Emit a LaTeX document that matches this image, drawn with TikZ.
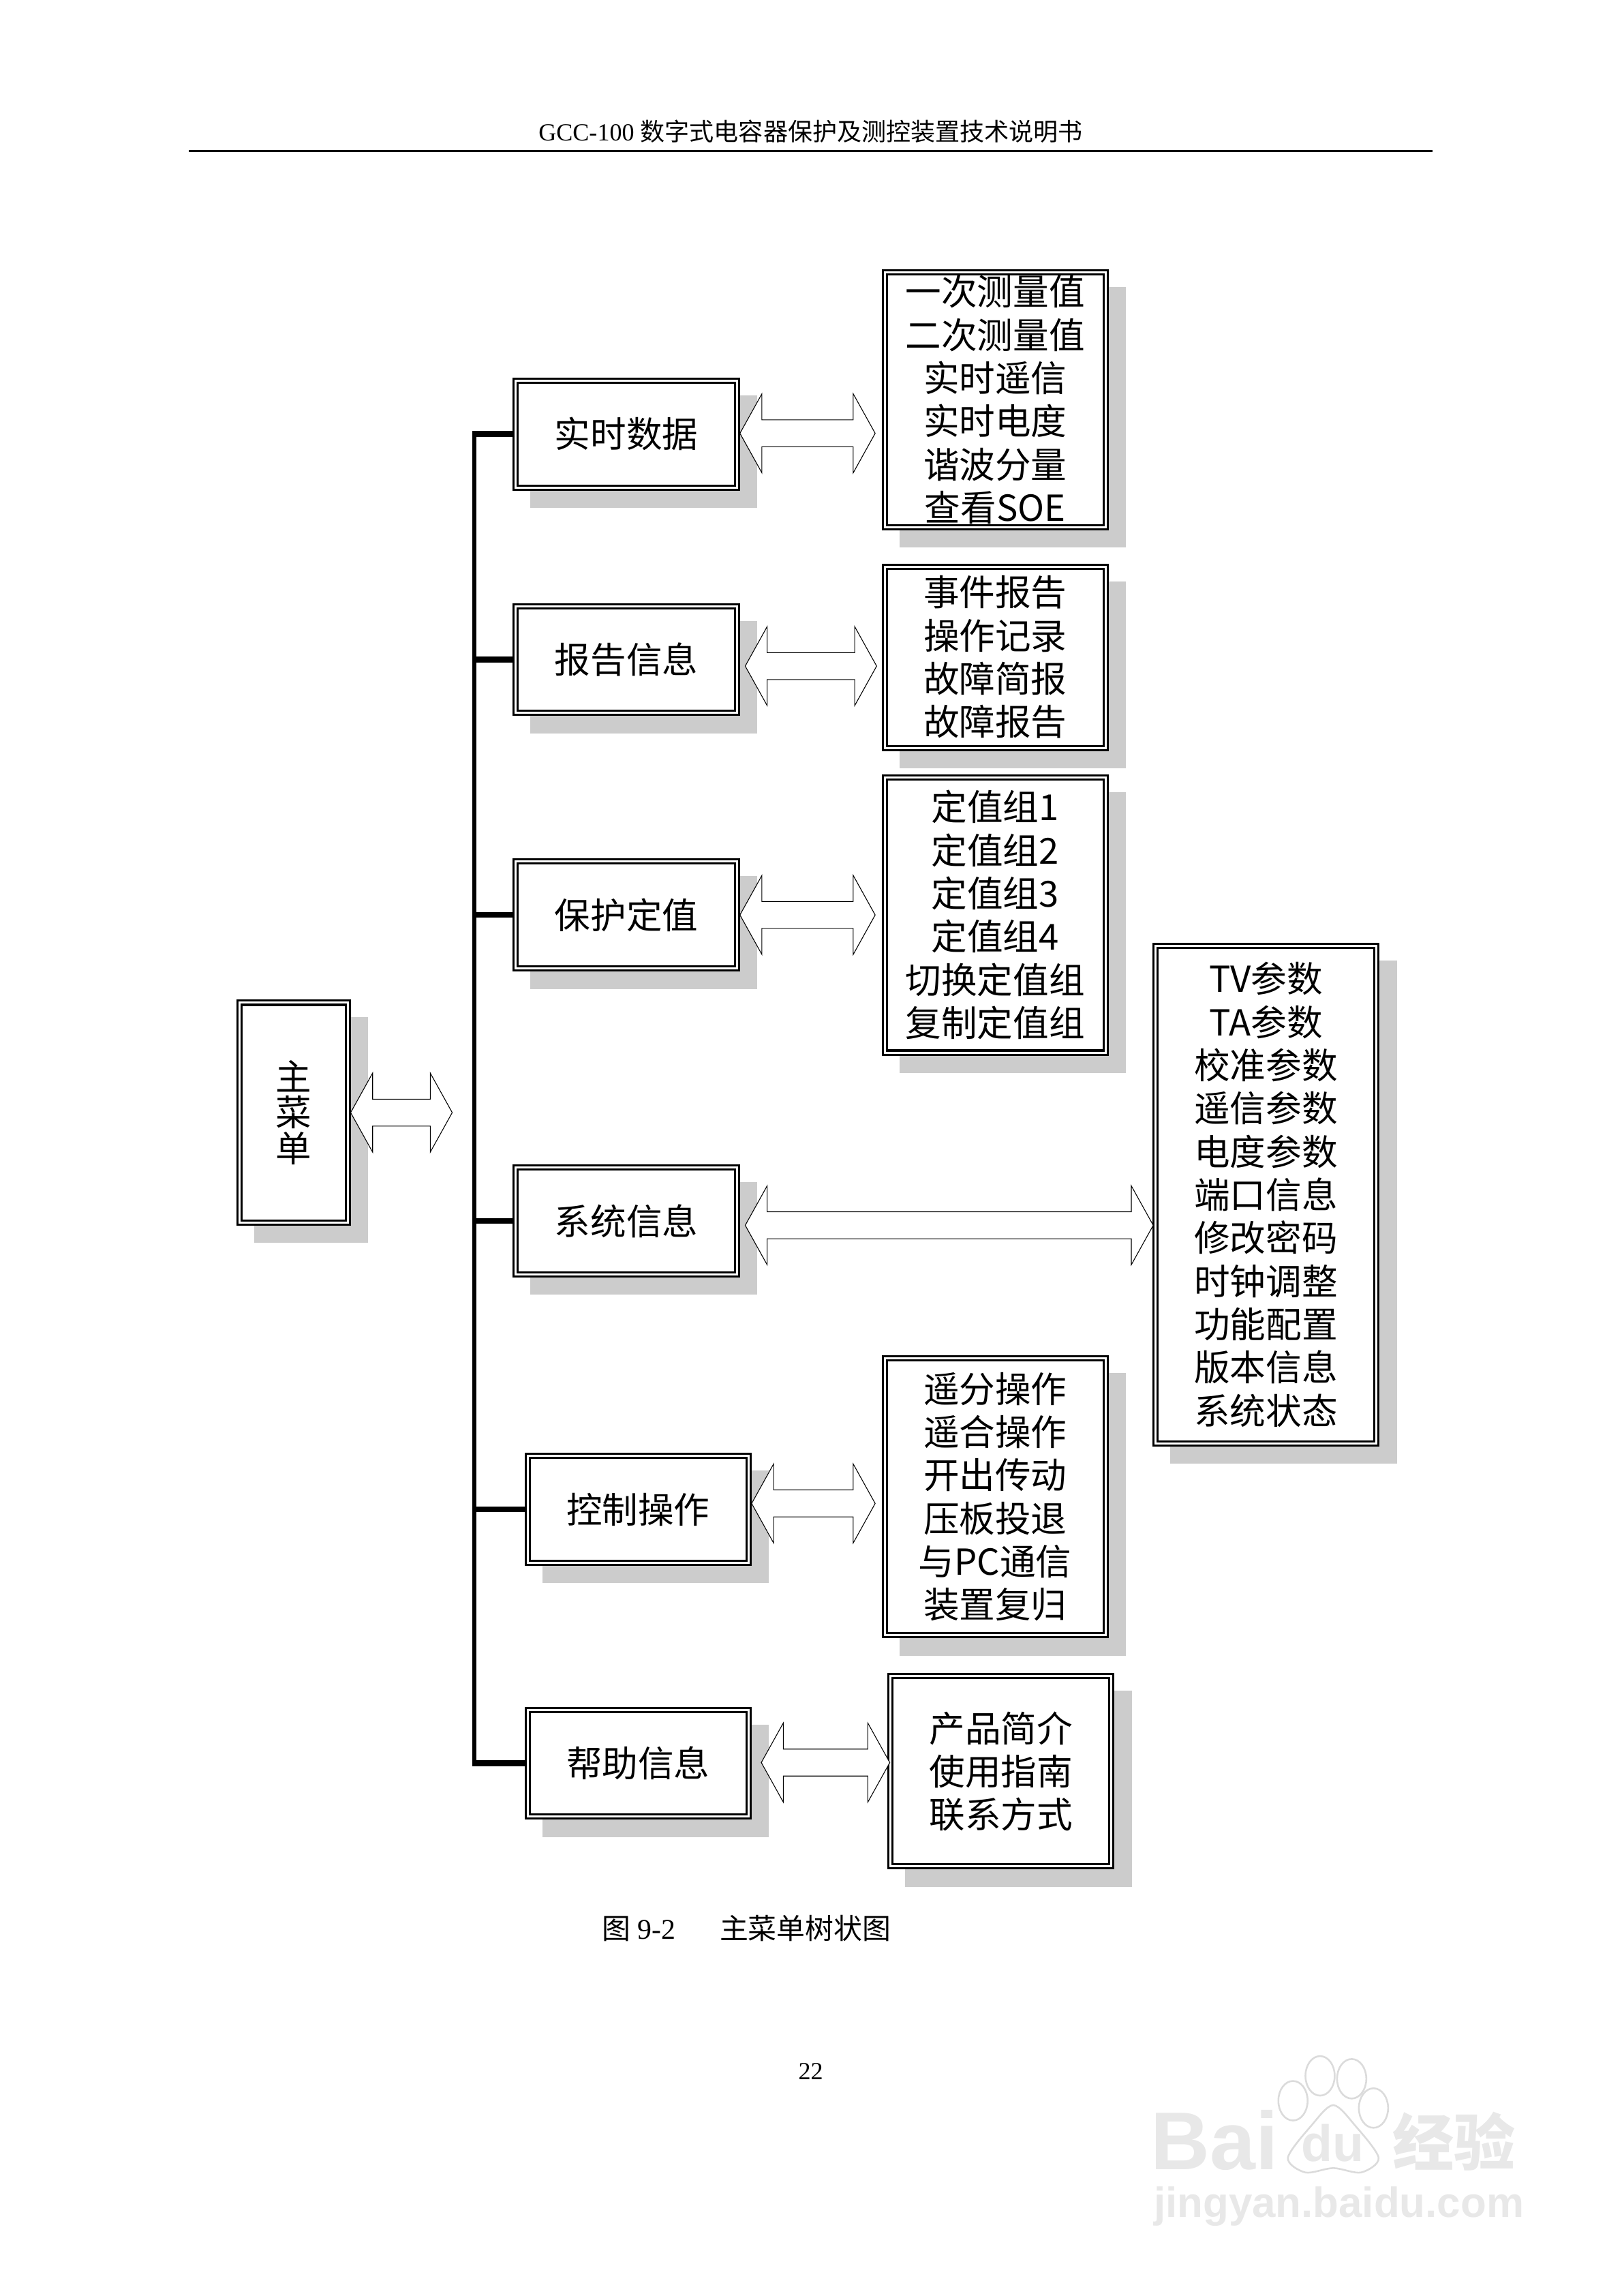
\documentclass[tikz,border=0pt]{standalone}
\usepackage{fontspec}
\setmainfont{Liberation Serif}
\newfontfamily\cjk{Noto Sans CJK SC}
\newfontfamily\wmark{Liberation Sans}
\usetikzlibrary{shadows,calc,shapes.geometric}

\tikzset{
	menubox/.style={draw, double, line width=.7pt, double distance=.7pt, fill=white, inner sep=0pt, align=center,
		minimum width=75.5pt, font=\cjk\fontsize{12.25}{14.75}\selectfont,
		drop shadow={shadow xshift=6pt, shadow yshift=-6pt, fill=black!20, draw=black!20, double=none, line width=2pt, opacity=1}},
	blockarrow/.style={draw=black, line width=.25pt, fill=white, to path={
		let \p1=(\tikztostart), \p2=(\tikztotarget) in
		(\x1,\y2) -- (\x1+7.5pt,\y2+13.5pt) -- (\x1+7.5pt,\y2+4.6pt) -- (\x2-7.5pt,\y2+4.6pt) -- (\x2-7.5pt,\y2+13.5pt) -- (\x2,\y2)
		-- (\x2-7.5pt,\y2-13.5pt) -- (\x2-7.5pt,\y2-4.6pt) -- (\x1+7.5pt,\y2-4.6pt) -- (\x1+7.5pt,\y2-13.5pt) -- cycle}},
	trunkline/.style={line width=1.4pt},
	stubline/.style={line width=2pt},
	pagetext/.style={inner sep=0pt, font=\fontsize{8.4}{10}\selectfont},
	pawtoe/.style={draw=black!14, line width=.6pt, fill=white, ellipse, inner sep=0pt, minimum width=10pt, minimum height=13.5pt},
	marktext/.style={inner sep=0pt, text=black!9}
}

\begin{document}
\begin{tikzpicture}[x=.5pt, y=-.5pt]
			\useasboundingbox (0, 0) rectangle (1108.3, 1568.4);
			%%
			\node[pagetext] (header) at (554, 90) {GCC-100 {\cjk 数字式电容器保护及测控装置技术说明书}};
			\coordinate (ruleleft) at (129, 103);
			\coordinate (ruleright) at (979, 103);
			\draw[line width=.7pt] (ruleleft) -- (ruleright);
			%%
			\node[menubox, minimum width=37pt, minimum height=75pt, font=\cjk\fontsize{12.25}{12.25}\selectfont] (mainmenu) at (200.5, 760) {主\\菜\\单};
			%%
			\node[menubox, minimum height=36.5pt] (realtime) at (428, 296.5) {实时数据};
			\node[menubox, minimum height=36.5pt] (report) at (428, 450.5) {报告信息};
			\node[menubox, minimum height=36.5pt] (setting) at (428, 625) {保护定值};
			\node[menubox, minimum height=36.5pt] (system) at (428, 834) {系统信息};
			\node[menubox, minimum height=36.5pt] (control) at (436, 1031) {控制操作};
			\node[menubox, minimum height=36.5pt] (help) at (436, 1204.5) {帮助信息};
			%%
			\node[menubox, minimum height=87pt] (realtimelist) at (680, 273) {一次测量值\\二次测量值\\实时遥信\\实时电度\\谐波分量\\查看SOE};
			\node[menubox, minimum height=62pt] (reportlist) at (680, 449) {事件报告\\操作记录\\故障简报\\故障报告};
			\node[menubox, minimum height=94pt] (settinglist) at (680, 625) {定值组1\\定值组2\\定值组3\\定值组4\\切换定值组\\复制定值组};
			\node[menubox, minimum height=170pt] (systemlist) at (865, 816) {TV参数\\TA参数\\校准参数\\遥信参数\\电度参数\\端口信息\\修改密码\\时钟调整\\功能配置\\版本信息\\系统状态};
			\node[menubox, minimum height=94.5pt] (controllist) at (680, 1022.5) {遥分操作\\遥合操作\\开出传动\\压板投退\\与PC通信\\装置复归};
			\node[menubox, minimum height=65pt] (helplist) at (684, 1210) {产品简介\\使用指南\\联系方式};
			%%
			\coordinate (trunktop) at (324, 296.5);
			\coordinate (trunkbottom) at (324, 1204.5);
			\draw[trunkline] ([yshift=1pt]trunktop) -- ([yshift=-1pt]trunkbottom);
			\foreach \name in {realtime, report, setting, system, control, help}
				\draw[stubline] (\name.west) -- (\name.west -| trunktop);
			%%
			\coordinate (mainend) at (309, 760);
			\coordinate (realtimeend) at (598, 296);
			\coordinate (reportend) at (599, 455);
			\coordinate (settingend) at (598, 625);
			\coordinate (systemend) at (788, 837);
			\coordinate (controlend) at (598, 1027);
			\coordinate (helpend) at (608, 1204);
			\draw[blockarrow] ([xshift=.7pt]mainmenu.east) to (mainend);
			\draw[blockarrow] ([xshift=.7pt]realtime.east) to (realtimeend);
			\draw[blockarrow] ([xshift=2.5pt]report.east) to (reportend);
			\draw[blockarrow] ([xshift=.7pt]setting.east) to (settingend);
			\draw[blockarrow] ([xshift=2.5pt]system.east) to (systemend);
			\draw[blockarrow] ([xshift=.7pt]control.east) to (controlend);
			\draw[blockarrow] ([xshift=4pt]help.east) to (helpend);
			%%
			\node[inner sep=0pt, font=\fontsize{9.75}{12}\selectfont, anchor=west] (caption) at (411, 1317) {{\cjk 图} 9-2\hspace{15pt}{\cjk 主菜单树状图}};
			\node[pagetext] (pagenum) at (554, 1415) {22};
			%%
			\node[marktext, font=\wmark\bfseries\fontsize{28}{28}\selectfont, anchor=west] (markbai) at (786, 1462) {Bai};
			\draw[draw=black!14, line width=.6pt, fill=white] plot[smooth cycle] coordinates {(911, 1438) (926, 1452) (942, 1474) (930, 1484) (911, 1481) (892, 1484) (880, 1474) (896, 1452)};
			\node[pawtoe] (toeone) at (883.5, 1435) {};
			\node[pawtoe] (toetwo) at (902, 1418) {};
			\node[pawtoe] (toethree) at (923.6, 1420) {};
			\node[pawtoe] (toefour) at (938.5, 1440) {};
			\node[marktext, font=\wmark\bfseries\fontsize{17.5}{18}\selectfont] (markdu) at (910.6, 1464) {du};
			\node[marktext, font=\cjk\bfseries\fontsize{21}{21}\selectfont, anchor=west] (markjy) at (951, 1463) {经验};
			\node[marktext, font=\wmark\bfseries\fontsize{14.4}{16}\selectfont, anchor=west] (markurl) at (788, 1507) {jingyan.baidu.com};
\end{tikzpicture}
\end{document}
